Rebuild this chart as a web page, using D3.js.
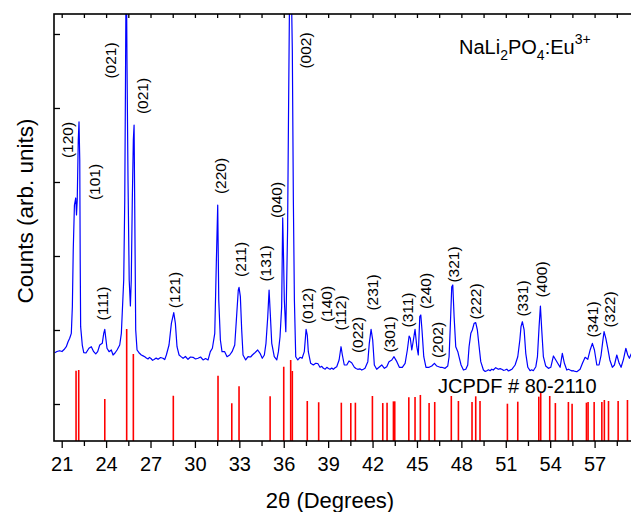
<!DOCTYPE html>
<html>
<head>
<meta charset="utf-8">
<script src="https://cdn.jsdelivr.net/npm/d3@7"></script>
<style>
  body { margin: 0; background: #fff; }
  svg { display: block; }
  text { font-family: "Liberation Sans", Arial, Helvetica, sans-serif; fill: #000; }
</style>
</head>
<body>
<svg id="chart" width="631" height="512"></svg>
<script>
// Measured XRD pattern of NaLi2PO4:Eu3+ (2θ in degrees, counts in arbitrary units)
const xrdTheta = [20.53,20.68,20.86,21.02,21.16,21.31,21.43,21.54,21.65,21.72,21.78,21.86,21.95,22.00,22.05,22.12,22.17,22.22,22.25,22.28,22.39,22.49,22.64,22.84,23.00,23.16,23.30,23.43,23.57,23.74,23.84,23.91,23.97,24.06,24.20,24.35,24.47,24.60,24.74,24.92,25.03,25.09,25.19,25.26,25.31,25.36,25.41,25.48,25.56,25.64,25.70,25.77,25.84,25.89,25.93,26.00,26.09,26.22,26.38,26.50,26.61,26.72,26.83,26.93,27.03,27.14,27.24,27.38,27.51,27.68,27.84,27.96,28.07,28.25,28.41,28.57,28.68,28.79,28.93,29.06,29.20,29.36,29.53,29.70,29.87,30.04,30.21,30.38,30.55,30.72,30.89,31.04,31.18,31.34,31.45,31.54,31.61,31.72,31.83,32.01,32.17,32.35,32.51,32.69,32.80,32.93,32.98,33.07,33.16,33.25,33.43,33.59,33.76,33.88,34.01,34.24,34.40,34.55,34.69,34.80,34.92,35.01,35.09,35.19,35.36,35.53,35.64,35.75,35.86,35.93,35.99,36.04,36.14,36.26,36.32,36.39,36.47,36.58,36.65,36.72,36.81,36.95,37.10,37.24,37.39,37.51,37.59,37.66,37.82,38.00,38.16,38.30,38.45,38.57,38.68,38.80,38.91,39.02,39.13,39.24,39.35,39.47,39.58,39.74,39.87,39.96,40.09,40.26,40.41,40.59,40.77,40.88,41.00,41.14,41.27,41.38,41.49,41.68,41.78,41.90,42.01,42.12,42.28,42.44,42.62,42.80,42.96,43.11,43.30,43.45,43.64,43.81,44.01,44.20,44.35,44.47,44.55,44.65,44.76,44.87,44.99,45.09,45.19,45.26,45.34,45.46,45.61,45.82,46.00,46.18,46.34,46.56,46.68,46.90,47.08,47.17,47.26,47.35,47.42,47.51,47.62,47.76,47.84,47.98,48.14,48.30,48.43,48.52,48.64,48.74,48.86,48.97,49.08,49.20,49.31,49.49,49.61,49.72,49.83,49.94,50.05,50.16,50.32,50.50,50.62,50.73,50.84,50.95,51.07,51.18,51.30,51.41,51.63,51.81,51.95,52.03,52.12,52.24,52.35,52.49,52.64,52.75,52.86,53.03,53.14,53.25,53.34,53.43,53.54,53.70,53.88,54.04,54.22,54.38,54.51,54.67,54.82,54.96,55.12,55.23,55.34,55.46,55.57,55.69,55.80,56.02,56.18,56.36,56.54,56.70,56.85,56.99,57.15,57.30,57.44,57.55,57.64,57.76,57.89,58.03,58.20,58.34,58.50,58.66,58.79,58.95,59.11,59.24,59.35,59.47,59.60];
const xrdCounts = [1693,1709,1720,1709,1736,1774,1842,1888,1955,2315,3081,3689,3784,3554,3757,4567,4811,4297,2946,2045,1797,1693,1689,1753,1774,1707,1676,1707,1797,1820,1955,2009,1905,1753,1707,1730,1662,1689,1730,1797,1955,2226,2676,3757,5378,7200,5648,4027,2676,2324,2676,3757,4567,4770,3757,2000,1730,1693,1662,1650,1639,1622,1608,1630,1615,1590,1601,1620,1604,1628,1618,1600,1662,1797,2090,2234,2090,1774,1662,1640,1618,1642,1604,1635,1631,1608,1618,1635,1595,1615,1595,1707,1753,1955,2946,3689,2405,1865,1707,1707,1639,1662,1707,1797,2135,2540,2577,2450,2000,1662,1595,1639,1635,1662,1685,1730,1685,1618,1662,1820,2180,2540,2226,1820,1639,1595,1707,1909,2315,3517,2946,2405,1977,3351,4838,6459,7200,5784,3757,2405,1639,1595,1631,1618,1707,2009,1932,1707,1550,1527,1550,1547,1496,1510,1482,1470,1496,1480,1469,1485,1469,1490,1504,1595,1774,1662,1527,1527,1581,1558,1496,1480,1469,1475,1459,1470,1482,1572,1820,2009,1865,1527,1469,1496,1527,1482,1504,1572,1595,1639,1572,1496,1496,1550,1730,1919,1888,1730,1865,2009,1774,1662,2180,2203,2000,1639,1496,1496,1513,1550,1513,1496,1496,1482,1513,1639,2090,2585,2608,2180,1774,1707,1639,1527,1459,1469,1527,1774,1955,2000,2090,2099,2000,1774,1572,1459,1440,1450,1462,1450,1470,1459,1491,1469,1478,1469,1455,1459,1470,1446,1458,1469,1527,1639,1865,2045,2112,2000,1685,1496,1450,1462,1450,1504,1639,2045,2324,2000,1639,1513,1482,1496,1649,1595,1550,1496,1685,1550,1459,1470,1459,1448,1450,1440,1436,1469,1550,1631,1604,1730,1820,1730,1527,1527,1662,1842,1977,1888,1753,1595,1496,1527,1662,1550,1496,1604,1753,1662,1618,1676,1650];

// JCPDF # 80-2110 reference reflections (2θ, relative intensity %)
const refTheta = [21.97,22.15,23.91,25.39,25.84,28.54,31.56,32.49,32.98,35.08,36.00,36.47,36.58,37.59,38.36,39.89,40.53,40.84,41.99,42.69,42.98,43.41,43.50,44.45,44.87,45.23,45.82,46.20,47.32,47.80,48.72,48.97,49.26,51.11,51.81,53.23,53.36,53.97,54.35,55.23,55.48,56.45,56.56,56.97,57.49,57.66,57.94,58.59,59.22];
const refIntensity = [62.8,63.4,37.5,100,77.7,40.4,58.3,33.7,48.8,39.9,66.3,72.3,62.5,35.7,34.6,34.2,33.9,34.2,40.2,33.9,34.2,35.4,35.4,39.0,39.3,41.1,33.9,34.8,40.2,35.7,34.8,39.9,35.7,33.3,35.1,39.6,44.0,40.2,33.9,34.8,33.3,34.2,34.8,34.8,34.8,36.6,35.7,35.7,36.6];

// Miller-index annotations (label, 2θ and counts at the label centre)
const hklLabels = ["(120)","(101)","(021)","(021)","(111)","(121)","(220)","(211)","(131)","(040)","(002)","(012)","(140)","(112)","(022)","(231)","(301)","(311)","(240)","(202)","(321)","(222)","(331)","(400)","(341)","(322)"];
const hklTheta  = [21.43,23.25,24.36,26.53,23.82,28.66,31.76,33.15,34.84,35.55,37.51,37.68,38.93,39.91,41.05,42.07,43.18,44.43,45.61,46.46,47.54,48.99,52.20,53.45,56.93,58.08];
const hklCounts = [4567,4000,5642,5162,2358,2540,4081,2953,2899,3757,5777,2324,2351,2230,1932,2507,1939,2270,2527,1865,2885,2385,2426,2682,2142,2277];

const xMajorTicks = d3.range(21, 58.1, 3);
const xMinorTicks = d3.range(22.5, 59.9, 3);
const xTopTicks   = d3.range(21, 59.9, 1.5);
const yTicks      = [1000, 2000, 3000, 4000, 5000, 6000];

const svg = d3.select("#chart");
const plot = { left: 54, right: 639, top: 14, bottom: 441 };

const x = d3.scaleLinear().domain([20.48, 60.0]).range([plot.left, plot.right]);
const y = d3.scaleLinear().domain([500, 6270]).range([plot.bottom, plot.top]);
const yRef = d3.scaleLinear().domain([0, 100]).range([plot.bottom, 329]);

svg.append("defs").append("clipPath").attr("id", "plotClip")
  .append("rect")
  .attr("x", plot.left).attr("y", plot.top)
  .attr("width", plot.right - plot.left).attr("height", plot.bottom - plot.top);

const inner = svg.append("g").attr("clip-path", "url(#plotClip)");

// reference stick pattern
inner.append("g").selectAll("line")
  .data(d3.zip(refTheta, refIntensity))
  .join("line")
  .attr("x1", d => x(d[0])).attr("x2", d => x(d[0]))
  .attr("y1", yRef(0)).attr("y2", d => yRef(d[1]))
  .attr("stroke", "#ff0000")
  .attr("stroke-width", 1.6);

// measured pattern
const line = d3.line().x(d => x(d[0])).y(d => y(d[1]));
inner.append("path")
  .datum(d3.zip(xrdTheta, xrdCounts))
  .attr("d", line)
  .attr("fill", "none")
  .attr("stroke", "#0000ff")
  .attr("stroke-width", 1.2)
  .attr("stroke-linejoin", "round");

// axes
const axisStyle = g => {
  g.select(".domain").remove();
  g.selectAll("line").attr("stroke", "#000").attr("stroke-width", 1.3);
};

svg.append("g")
  .attr("transform", `translate(0,${plot.bottom})`)
  .call(d3.axisBottom(x).tickValues(xMinorTicks).tickSize(5).tickFormat(""))
  .call(axisStyle);

const xAxis = svg.append("g")
  .attr("transform", `translate(0,${plot.bottom})`)
  .call(d3.axisBottom(x).tickValues(xMajorTicks).tickSize(7).tickFormat(d3.format("d")))
  .call(axisStyle);
xAxis.selectAll("text")
  .attr("y", 16).attr("dy", "0.71em")
  .style("font-size", "20px")
  .style("font-family", "'Liberation Sans', Arial, sans-serif");

svg.append("g")
  .attr("transform", `translate(0,${plot.top})`)
  .call(d3.axisTop(x).tickValues(xTopTicks).tickSize(-4).tickFormat(""))
  .call(axisStyle);

svg.append("g")
  .attr("transform", `translate(${plot.left},0)`)
  .call(d3.axisLeft(y).tickValues(yTicks).tickSize(-6).tickFormat(""))
  .call(axisStyle);

// frame
svg.append("rect")
  .attr("x", plot.left).attr("y", plot.top)
  .attr("width", plot.right - plot.left).attr("height", plot.bottom - plot.top)
  .attr("fill", "none").attr("stroke", "#000").attr("stroke-width", 1.6);

// hkl annotations
svg.append("g").selectAll("text")
  .data(d3.zip(hklLabels, hklTheta, hklCounts))
  .join("text")
  .attr("transform", d => `translate(${x(d[1])},${y(d[2])}) rotate(-90)`)
  .attr("text-anchor", "middle")
  .attr("dy", "0.3em")
  .style("font-size", "15.5px")
  .text(d => d[0]);

// sample name
const name = svg.append("text").attr("x", 459).attr("y", 54).style("font-size", "20px");
name.append("tspan").text("NaLi");
name.append("tspan").attr("dy", 6).style("font-size", "14px").text("2");
name.append("tspan").attr("dy", -6).text("PO");
name.append("tspan").attr("dy", 6).style("font-size", "14px").text("4");
name.append("tspan").attr("dy", -6).text(":Eu");
name.append("tspan").attr("dy", -10).style("font-size", "14px").text("3+");

// reference card label
svg.append("text").attr("x", 438).attr("y", 393).style("font-size", "20px")
  .text("JCPDF # 80-2110");

// axis titles
svg.append("text")
  .attr("x", 330).attr("y", 508)
  .attr("text-anchor", "middle")
  .style("font-size", "22px")
  .text("2θ (Degrees)");

svg.append("text")
  .attr("transform", "translate(33,211) rotate(-90)")
  .attr("text-anchor", "middle")
  .style("font-size", "22.5px")
  .text("Counts (arb. units)");
</script>
</body>
</html>
